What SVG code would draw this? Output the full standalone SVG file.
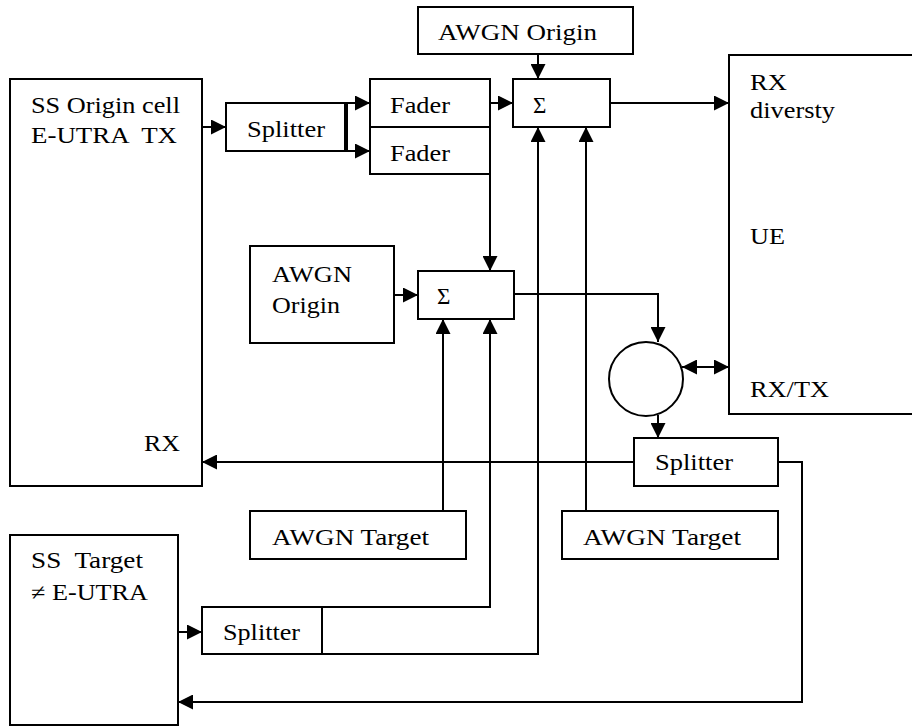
<svg xmlns="http://www.w3.org/2000/svg" width="912" height="726" viewBox="0 0 912 726">
<style>
.box{fill:#fff;stroke:#000;stroke-width:2}
.t{font-family:"Liberation Serif","Times New Roman",serif;font-size:23px;fill:#000}
.c{fill:none;stroke:#000;stroke-width:2}
.a{marker-end:url(#ah)}
</style>
<defs>
<marker id="ah" markerUnits="userSpaceOnUse" markerWidth="15" markerHeight="15" refX="15" refY="7.5" orient="auto">
<path d="M0,0 L15,7.5 L0,15 z" fill="#000"/>
</marker>
<marker id="as" markerUnits="userSpaceOnUse" markerWidth="15" markerHeight="15" refX="15" refY="7.5" orient="auto-start-reverse">
<path d="M0,0 L15,7.5 L0,15 z" fill="#000"/>
</marker>
</defs>
<g id="ss-origin">
<rect class="box" x="10" y="79" width="192" height="407"/>
<text class="t" x="31" y="113" textLength="149" lengthAdjust="spacingAndGlyphs">SS Origin cell</text>
<text class="t" x="31" y="143" textLength="146" lengthAdjust="spacingAndGlyphs" xml:space="preserve">E-UTRA  TX</text>
<text class="t" x="144" y="451" textLength="36" lengthAdjust="spacingAndGlyphs">RX</text>
</g>
<g id="splitter1">
<rect class="box" x="226" y="103" width="119" height="48"/>
<text class="t" x="247" y="137" textLength="78" lengthAdjust="spacingAndGlyphs">Splitter</text>
</g>
<g id="fader1">
<rect class="box" x="370" y="79" width="120" height="48"/>
<text class="t" x="390" y="113" textLength="60" lengthAdjust="spacingAndGlyphs">Fader</text>
</g>
<g id="fader2">
<rect class="box" x="370" y="127" width="120" height="47"/>
<text class="t" x="390" y="161" textLength="60" lengthAdjust="spacingAndGlyphs">Fader</text>
</g>
<g id="awgn-origin-top">
<rect class="box" x="418" y="7" width="215" height="47"/>
<text class="t" x="438" y="40" textLength="159" lengthAdjust="spacingAndGlyphs">AWGN Origin</text>
</g>
<g id="sum1">
<rect class="box" x="513" y="79" width="97" height="48"/>
<text class="t" x="533" y="113">Σ</text>
</g>
<g id="ue">
<rect class="box" x="729" y="55" width="195" height="359"/>
<text class="t" x="750" y="90" textLength="37" lengthAdjust="spacingAndGlyphs">RX</text>
<text class="t" x="750" y="118" textLength="85" lengthAdjust="spacingAndGlyphs">diversty</text>
<text class="t" x="750" y="244" textLength="35" lengthAdjust="spacingAndGlyphs">UE</text>
<text class="t" x="750" y="397" textLength="79" lengthAdjust="spacingAndGlyphs">RX/TX</text>
</g>
<g id="awgn-origin-2">
<rect class="box" x="250" y="246" width="144" height="97"/>
<text class="t" x="272" y="282" textLength="80" lengthAdjust="spacingAndGlyphs">AWGN</text>
<text class="t" x="272" y="313" textLength="68" lengthAdjust="spacingAndGlyphs">Origin</text>
</g>
<g id="sum2">
<rect class="box" x="418" y="271" width="96" height="48"/>
<text class="t" x="437" y="304">Σ</text>
</g>
<g id="circulator">
<circle class="box" cx="646" cy="379" r="37"/>
</g>
<g id="splitter3">
<rect class="box" x="634" y="438" width="144" height="48"/>
<text class="t" x="655" y="470" textLength="78" lengthAdjust="spacingAndGlyphs">Splitter</text>
</g>
<g id="awgn-target-1">
<rect class="box" x="250" y="511" width="216" height="48"/>
<text class="t" x="272" y="545" textLength="157" lengthAdjust="spacingAndGlyphs">AWGN Target</text>
</g>
<g id="awgn-target-2">
<rect class="box" x="562" y="511" width="216" height="48"/>
<text class="t" x="583" y="545" textLength="158" lengthAdjust="spacingAndGlyphs">AWGN Target</text>
</g>
<g id="ss-target">
<rect class="box" x="10" y="535" width="168" height="190"/>
<text class="t" x="31" y="568" textLength="112" lengthAdjust="spacingAndGlyphs" xml:space="preserve">SS  Target</text>
<text class="t" x="31" y="600" textLength="117" lengthAdjust="spacingAndGlyphs">≠ E-UTRA</text>
</g>
<g id="splitter2">
<rect class="box" x="202" y="607" width="120" height="47"/>
<text class="t" x="223" y="640" textLength="77" lengthAdjust="spacingAndGlyphs">Splitter</text>
</g>
<g id="connectors">
<path class="c a" d="M202,127 H226"/>
<path class="c a" d="M345,103 H370"/>
<path class="c a" d="M345,151 H370"/>
<path class="c" d="M347,103 V151"/>
<path class="c a" d="M538,54 V79"/>
<path class="c a" d="M490,103 H513"/>
<path class="c a" d="M610,103 H729"/>
<path class="c a" d="M490,174 V271"/>
<path class="c a" d="M394,295 H418"/>
<path class="c a" d="M514,294 H658 V342"/>
<path class="c" d="M682,367 H729" marker-start="url(#as)" marker-end="url(#ah)"/>
<path class="c a" d="M658,415 V438"/>
<path class="c a" d="M634,462 H202"/>
<path class="c a" d="M778,462 H802 V702 H178"/>
<path class="c a" d="M443,511 V319"/>
<path class="c a" d="M322,607 H490 V319"/>
<path class="c a" d="M322,654 H538 V127"/>
<path class="c a" d="M586,511 V127"/>
<path class="c a" d="M178,632 H202"/>
</g>
</svg>
